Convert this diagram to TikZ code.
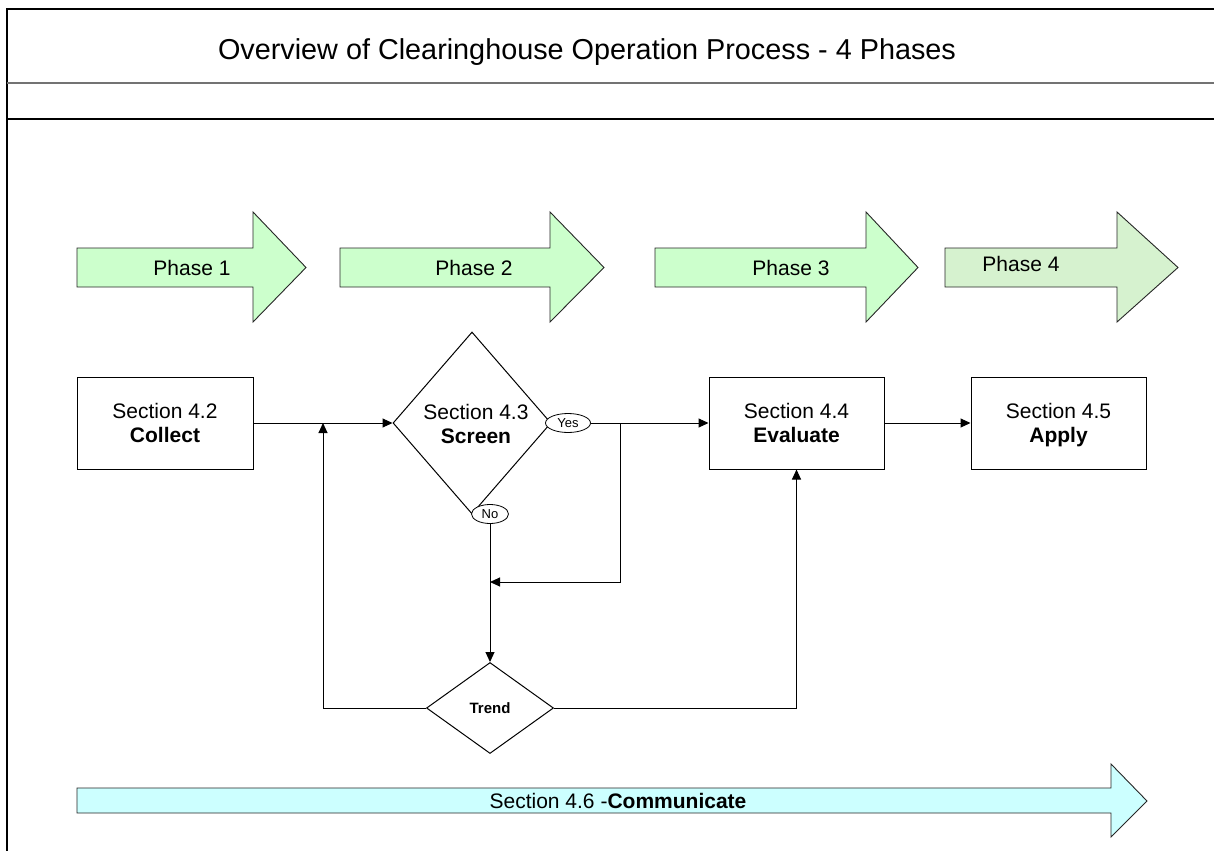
\documentclass[tikz,border=0pt]{standalone}
\usepackage{fontspec}
\setmainfont{Liberation Sans}
\usetikzlibrary{arrows.meta,shapes.geometric}
\definecolor{phasegreen}{HTML}{CCFFCC}
\definecolor{phasefour}{HTML}{D6F2CF}
\definecolor{commcyan}{HTML}{CCFFFF}
\begin{document}
\begin{tikzpicture}[x=1pt,y=-1pt,
  procbox/.style={draw, line width=1pt, minimum width=176pt, minimum height=92pt, inner sep=0pt, align=center, font=\fontsize{21}{24}\selectfont, text depth=0pt},
  decision/.style={draw, diamond, line width=1pt, inner sep=0pt},
  tag/.style={draw, ellipse, fill=white, line width=0.8pt, inner sep=0pt, font=\fontsize{13}{13}\selectfont},
  flow/.style={line width=1pt, -{Triangle[length=10pt,width=9pt]}},
  phasearrow/.style={draw=black!85, line width=0.9pt, fill=phasegreen},
  phasetext/.style={font=\fontsize{21}{21}\selectfont}]
\useasboundingbox (0,0) rectangle (1214,851);
% frame
\draw[line width=1.2pt] (1214,9) -- (7,9) -- (7,851);
\draw[line width=1.2pt, black!55] (7,83) -- (1214,83);
\draw[line width=1.4pt] (7,119) -- (1214,119);
\node[font=\fontsize{28.8}{29}\selectfont] (title) at (587,52) {Overview of Clearinghouse Operation Process - 4 Phases};
% phase arrows
\draw[phasearrow] (77,248) -- (253,248) -- (253,212) -- (306,267.5) -- (253,322) -- (253,287) -- (77,287) -- cycle;
\node[phasetext] (p1) at (192,268) {Phase 1};
\draw[phasearrow] (340,248) -- (550,248) -- (550,212) -- (604,267.5) -- (550,322) -- (550,287) -- (340,287) -- cycle;
\node[phasetext] (p2) at (474,268) {Phase 2};
\draw[phasearrow] (655,248) -- (866,248) -- (866,212) -- (918,267.5) -- (866,322) -- (866,287) -- (655,287) -- cycle;
\node[phasetext] (p3) at (791,268) {Phase 3};
\draw[phasearrow, fill=phasefour] (945,248) -- (1117,248) -- (1117,212) -- (1178,267.5) -- (1117,322) -- (1117,287) -- (945,287) -- cycle;
\node[phasetext] (p4) at (1021,264) {Phase 4};
% process nodes
\node[procbox] (collect) at (165,423) {Section 4.2\\\textbf{Collect}};
\node[decision, minimum width=158pt, minimum height=182pt] (screen) at (472,423) {};
\node[font=\fontsize{21}{24}\selectfont, align=center, text depth=0pt] (screentext) at (476,424) {Section 4.3\\\textbf{Screen}};
\node[procbox, minimum width=175pt] (evaluate) at (796.5,423) {Section 4.4\\\textbf{Evaluate}};
\node[procbox, minimum width=175pt] (apply) at (1058.5,423) {Section 4.5\\\textbf{Apply}};
\node[tag, minimum width=45pt, minimum height=19pt] (yes) at (568,423) {Yes};
\node[tag, minimum width=37pt, minimum height=19pt] (no) at (490,514) {No};
\node[decision, minimum width=127pt, minimum height=91pt, font=\fontsize{15}{15}\selectfont\bfseries] (trend) at (490,708) {Trend};
% connectors
\coordinate (j1) at (323,423);
\coordinate (j2) at (620,423);
\coordinate (j3) at (490,582);
\draw[flow] (collect.east) -- (screen.west);
\draw[flow] (yes.east) -- (evaluate.west);
\draw[flow] (j2) |- (j3);
\draw[flow] (no.south) -- (trend.north);
\draw[flow] (trend.west) -| (j1);
\draw[flow] (trend.east) -| (evaluate.south);
\draw[flow] (evaluate.east) -- (apply.west);
% communicate arrow
\draw[draw=black!85, line width=0.9pt, fill=commcyan] (77,788) -- (1111,788) -- (1111,764) -- (1147,801) -- (1111,837) -- (1111,813) -- (77,813) -- cycle;
\node[font=\fontsize{21}{21}\selectfont] (comm) at (618,801) {Section 4.6 -\textbf{Communicate}};
\end{tikzpicture}
\end{document}
